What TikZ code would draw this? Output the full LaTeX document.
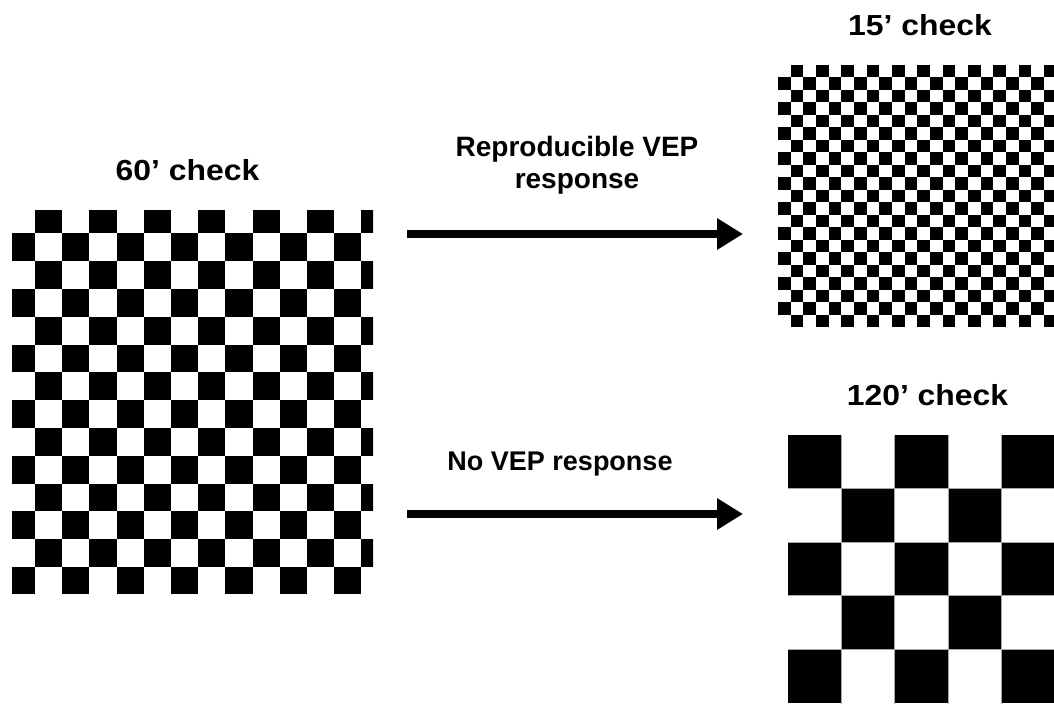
\documentclass[tikz,border=0pt]{standalone}
\usepackage{fontspec}
\setmainfont{Liberation Sans}
\newfontfamily\titlefont{Liberation Sans}[FakeStretch=1.1]
\usetikzlibrary{arrows.meta}
\tikzset{
  title/.style={font=\titlefont\fontsize{29}{33}\selectfont\bfseries, inner sep=0pt, anchor=base},
  lbl/.style={font=\fontsize{28}{32}\selectfont\bfseries, inner sep=0pt, anchor=base, align=center},
  bigarrow/.style={line width=8pt, -{Triangle[length=26pt,width=30pt]}},
  board/.style={inner sep=0pt, draw=none}
}
\begin{document}
\begin{tikzpicture}[x=1pt,y=-1pt]
\useasboundingbox (0,0) rectangle (1054,704);
\fill[white] (0,0) rectangle (1054,704);

% 60' board
\node[board, minimum width=361pt, minimum height=383pt] (b60) at (192.5,401.5) {};
\begin{scope}
\clip (12,210) rectangle (373,593);
\foreach \r in {-1,...,12}{\foreach \c in {-1,...,12}{
  \ifodd\numexpr\r+\c+100\relax
    \fill[black] ({35+\c*27.2},{233.3+\r*27.8}) rectangle ++(27.2,27.8);
  \fi
}}
\end{scope}

% 15' board
\node[board, minimum width=276pt, minimum height=262pt] (b15) at (916,196) {};
\begin{scope}
\clip (778,65) rectangle (1054,327);
\foreach \r in {0,...,20}{\foreach \c in {0,...,21}{
  \ifodd\numexpr\r+\c\relax
    \fill[black] ({778+\c*12.66},{65+\r*12.48}) rectangle ++(12.66,12.48);
  \fi
}}
\end{scope}

% 120' board
\node[board, minimum width=266pt, minimum height=269pt] (b120) at (921,569.5) {};
\begin{scope}
\clip (788,435) rectangle (1054,704);
\foreach \r in {0,...,4}{\foreach \c in {0,...,4}{
  \ifodd\numexpr\r+\c+1\relax
    \fill[black] ({788+\c*53.3},{435+\r*53.5}) rectangle ++(53.3,53.5);
  \fi
}}
\foreach \k in {1,...,4}{
  \draw[gray!70, line width=0.8pt] ({788+\k*53.3},435) -- ({788+\k*53.3},704);
  \draw[gray!70, line width=0.8pt] (788,{435+\k*53.5}) -- (1054,{435+\k*53.5});
}
\end{scope}

% titles
\node[title] (t60) at (187.5,180) {60’ check};
\node[title] (t15) at (920,35) {15’ check};
\node[title] (t120) at (927.5,405) {120’ check};

% arrows
\coordinate (a1s) at (407,234);
\coordinate (a1e) at (743,234);
\coordinate (a2s) at (407,514);
\coordinate (a2e) at (743,514);
\draw[bigarrow] (a1s) -- (a1e);
\draw[bigarrow] (a2s) -- (a2e);

\node[lbl] (l1) at (577,188) {Reproducible VEP\\[0pt]response};
\node[lbl, font=\fontsize{27}{31}\selectfont\bfseries] (l2) at (560,470) {No VEP response};
\end{tikzpicture}
\end{document}
